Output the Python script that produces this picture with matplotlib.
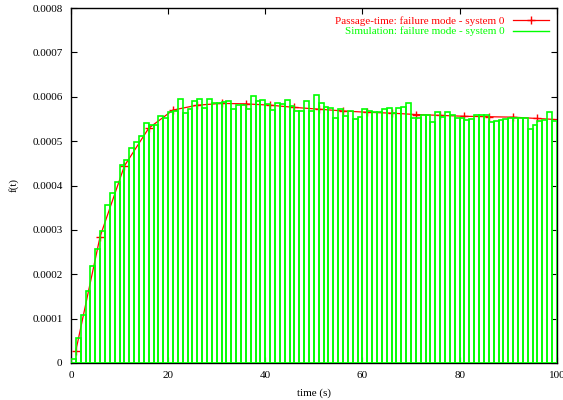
import matplotlib
matplotlib.use("Agg")
import matplotlib.pyplot as plt
import numpy as np

# Simulation histogram (bins of width 1 s, starting at t = 0)
sim_values = [
    0.000009, 0.000056, 0.000108, 0.000162, 0.000218, 0.000258, 0.000298, 0.000357, 0.000384, 0.000408,
    0.000446, 0.000457, 0.000485, 0.000499, 0.000511, 0.000540, 0.000536, 0.000537, 0.000557, 0.000551,
    0.000566, 0.000568, 0.000595, 0.000563, 0.000572, 0.000591, 0.000595, 0.000574, 0.000594, 0.000585,
    0.000585, 0.000589, 0.000590, 0.000572, 0.000581, 0.000581, 0.000572, 0.000602, 0.000590, 0.000593,
    0.000584, 0.000570, 0.000587, 0.000583, 0.000593, 0.000579, 0.000568, 0.000568, 0.000590, 0.000568,
    0.000603, 0.000587, 0.000576, 0.000575, 0.000551, 0.000572, 0.000557, 0.000568, 0.000549, 0.000554,
    0.000572, 0.000568, 0.000565, 0.000565, 0.000572, 0.000574, 0.000563, 0.000574, 0.000578, 0.000585,
    0.000551, 0.000553, 0.000559, 0.000559, 0.000544, 0.000565, 0.000555, 0.000566, 0.000560, 0.000551,
    0.000551, 0.000548, 0.000549, 0.000560, 0.000559, 0.000560, 0.000544, 0.000546, 0.000548, 0.000550,
    0.000553, 0.000553, 0.000551, 0.000553, 0.000527, 0.000536, 0.000546, 0.000548, 0.000566, 0.000545,
]
sim_bin_start = list(range(100))

# Passage-time curve
pt_times = [1, 6, 11, 16, 21, 26, 31, 36, 41, 46, 51, 56, 61, 66, 71, 76, 81, 86, 91, 96, 101]
pt_values = [0.000027, 0.000285, 0.000444, 0.000529, 0.000570, 0.000581, 0.000585, 0.000584,
             0.000581, 0.000576, 0.000572, 0.000568, 0.000565, 0.000563, 0.000560, 0.000558,
             0.000556, 0.000555, 0.000554, 0.000551, 0.000548]

x_ticks = [0, 20, 40, 60, 80, 100]
y_ticks = [0, 0.0001, 0.0002, 0.0003, 0.0004, 0.0005, 0.0006, 0.0007, 0.0008]
y_tick_labels = ["0", "0.0001", "0.0002", "0.0003", "0.0004", "0.0005", "0.0006", "0.0007", "0.0008"]

plt.rcParams['font.family'] = ['Liberation Serif', 'DejaVu Serif']
fs = 8

fig = plt.figure(figsize=(5.63, 4.0), dpi=100)
ax = fig.add_axes([0.126, 0.0925, 0.863, 0.8875])

line, = ax.plot(pt_times, pt_values, color='red', linewidth=0.9, marker='+',
                markersize=6, markeredgewidth=1.0, zorder=2,
                label='Passage-time: failure mode - system 0')
ax.bar(sim_bin_start, sim_values, width=1.0, align='edge', fill=False,
       edgecolor='#00ff00', linewidth=1.2, zorder=3)
sim_handle, = ax.plot([], [], color='#00ff00', linewidth=1.0,
                      label='Simulation: failure mode - system 0')

ax.set_xlim(0, 100)
ax.set_ylim(0, 0.0008)
ax.set_xticks(x_ticks)
ax.set_xticklabels([str(v) for v in x_ticks], fontsize=fs)
ax.set_yticks(y_ticks)
ax.set_yticklabels(y_tick_labels, fontsize=fs)
ax.tick_params(direction='in', top=True, right=True, length=4, width=0.8, pad=6)
for s in ax.spines.values():
    s.set_linewidth(1.0)

ax.set_xlabel('time (s)', fontsize=fs, labelpad=6)
ax.set_ylabel('f(t)', fontsize=fs, labelpad=10)

leg = ax.legend(handles=[line, sim_handle], loc='upper right', frameon=False,
                markerfirst=False, fontsize=fs, handlelength=3.2,
                handletextpad=0.8, borderaxespad=0.3, labelspacing=0.1,
                labelcolor=['red', '#00ff00'])

fig.savefig('out.png', dpi=100)
